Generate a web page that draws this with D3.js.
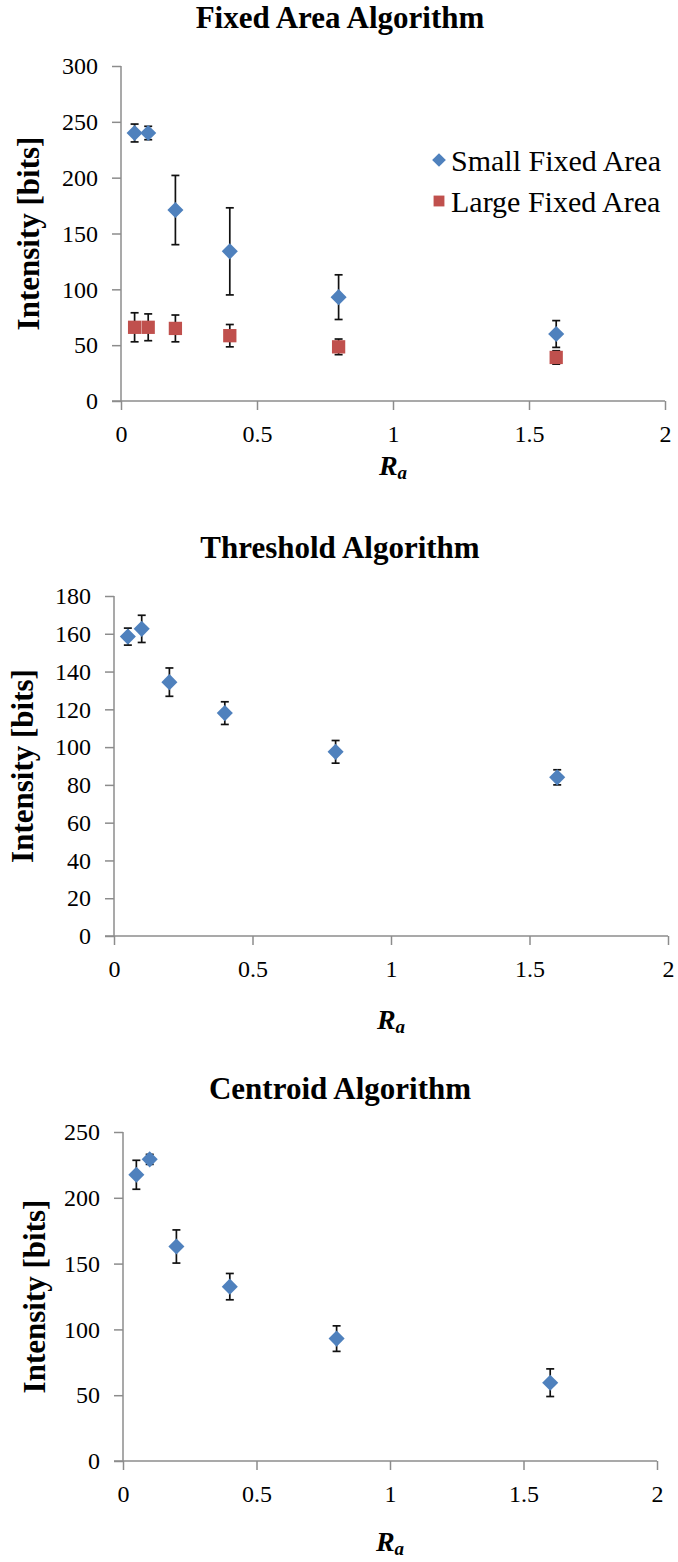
<!DOCTYPE html>
<html><head><meta charset="utf-8">
<script src="https://cdn.jsdelivr.net/npm/d3@7"></script>
<style>html,body{margin:0;padding:0;background:#fff;} svg{display:block;}</style>
</head><body>
<script>
// ---- data ----
const raValues = [0.05, 0.1, 0.2, 0.4, 0.8, 1.6];
const fixedSmall = [240, 240, 171, 134, 93, 60];
const fixedSmallErr = [8, 6, 31, 39, 20, 12];
const fixedLarge = [66, 66, 65, 58.5, 48.5, 39];
const fixedLargeErr = [13, 12, 12, 10, 7, 6];
const thresholdVals = [158.5, 162.6, 134.4, 118, 97.5, 84];
const thresholdErr = [4.5, 7.2, 7.5, 6, 6, 4];
const centroidVals = [217.5, 229.2, 163, 132.5, 93, 59.5];
const centroidErr = [11, 3.8, 12.6, 10, 9.7, 10.5];
const xTicks = [0, 0.5, 1, 1.5, 2];
const fixedTicks = [0, 50, 100, 150, 200, 250, 300];
const thresholdTicks = [0, 20, 40, 60, 80, 100, 120, 140, 160, 180];
const centroidTicks = [0, 50, 100, 150, 200, 250];
const titles = ["Fixed Area Algorithm", "Threshold Algorithm", "Centroid Algorithm"];
const legendLabels = ["Small Fixed Area", "Large Fixed Area"];
const yLabel = "Intensity [bits]";

const BLUE = "#4F81BD", RED = "#C0504D", AXIS = "#8c8c8c";
const FONT = "'Liberation Serif', 'Times New Roman', serif";

const W = 678, H = 1562;
const svg = d3.select("body").append("svg").attr("width", W).attr("height", H)
  .attr("font-family", FONT);

const panels = [
  { title: titles[0], titleY: 28, x0: 121, x1: 665, yTop: 66, yBot: 401, yMax: 300, ticks: fixedTicks,
    ylabX: 28, xlabDY: 74, series: [
      { vals: fixedSmall, err: fixedSmallErr, shape: "diamond", color: BLUE },
      { vals: fixedLarge, err: fixedLargeErr, shape: "square", color: RED } ], legend: true },
  { title: titles[1], titleY: 558, x0: 114, x1: 668, yTop: 596, yBot: 936, yMax: 180, ticks: thresholdTicks,
    ylabX: 22, xlabDY: 93, series: [ { vals: thresholdVals, err: thresholdErr, shape: "diamond", color: BLUE } ] },
  { title: titles[2], titleY: 1099, x0: 123, x1: 657, yTop: 1132, yBot: 1461, yMax: 250, ticks: centroidTicks,
    ylabX: 34, xlabDY: 90, series: [ { vals: centroidVals, err: centroidErr, shape: "diamond", color: BLUE } ] }
];

const diamond = d3.symbol().type(d3.symbolDiamond2).size(165);
const square = d3.symbol().type(d3.symbolSquare2).size(225);

panels.forEach(p => {
  const g = svg.append("g");
  const x = d3.scaleLinear().domain([0, 2]).range([p.x0, p.x1]);
  const y = d3.scaleLinear().domain([0, p.yMax]).range([p.yBot, p.yTop]);

  // title
  g.append("text").text(p.title).attr("text-anchor", "middle")
    .attr("x", 340).attr("y", p.titleY)
    .attr("font-weight", "bold").attr("font-size", 31).attr("fill", "#000");

  // axes
  const yAxis = d3.axisLeft(y).tickValues(p.ticks).tickSize(9).tickPadding(14).tickFormat(d3.format("d"));
  const gy = g.append("g").attr("transform", `translate(${p.x0},0)`).call(yAxis);
  const xAxis = d3.axisBottom(x).tickValues(xTicks).tickSize(9).tickPadding(15).tickFormat(d => d3.format("")(d));
  const gx = g.append("g").attr("transform", `translate(0,${p.yBot})`).call(xAxis);
  [gx, gy].forEach(ax => {
    ax.attr("font-family", FONT).attr("font-size", 24);
    ax.select(".domain").attr("stroke", AXIS).attr("stroke-width", 1.5);
    ax.selectAll(".tick line").attr("stroke", AXIS).attr("stroke-width", 1.5);
    ax.selectAll(".tick text").attr("font-size", 24).attr("font-family", FONT).attr("fill", "#000");
  });
  gy.select(".domain").attr("d", `M0,${p.yBot}V${p.yTop}`);
  gx.select(".domain").attr("d", `M${p.x0 - 9},0H${p.x1}`);

  // y label
  g.append("text").text(yLabel).attr("text-anchor", "middle")
    .attr("font-weight", "bold").attr("font-size", 31).attr("fill", "#000")
    .attr("dominant-baseline", "central")
    .attr("transform", `translate(${p.ylabX},${(p.yTop + p.yBot) / 2}) rotate(-90)`);

  // x label R_a
  const xl = g.append("text").attr("text-anchor", "middle").attr("fill", "#000")
    .attr("x", (p.x0 + p.x1) / 2).attr("y", p.yBot + p.xlabDY);
  xl.append("tspan").text("R").attr("font-weight", "bold").attr("font-style", "italic").attr("font-size", 28);
  xl.append("tspan").text("a").attr("font-weight", "bold").attr("font-style", "italic").attr("font-size", 19).attr("dy", 4);

  // series
  p.series.forEach(s => {
    const pts = raValues.map((r, i) => ({ r, v: s.vals[i], e: s.err[i] }));
    const eb = g.append("g").attr("stroke", "#111").attr("stroke-width", 1.7);
    pts.forEach(d => {
      const cx = x(d.r), yt = y(d.v + d.e), yb = y(d.v - d.e);
      eb.append("line").attr("x1", cx).attr("x2", cx).attr("y1", yt).attr("y2", yb);
      eb.append("line").attr("x1", cx - 4).attr("x2", cx + 4).attr("y1", yt).attr("y2", yt);
      eb.append("line").attr("x1", cx - 4).attr("x2", cx + 4).attr("y1", yb).attr("y2", yb);
    });
    g.append("g").selectAll("path").data(pts).join("path")
      .attr("d", s.shape === "diamond" ? diamond : square)
      .attr("transform", d => `translate(${x(d.r)},${y(d.v)})`)
      .attr("fill", s.color);
  });

  if (p.legend) {
    const items = [{ label: legendLabels[0], shape: "diamond", color: BLUE, y: 160 },
                   { label: legendLabels[1], shape: "square", color: RED, y: 201 }];
    items.forEach(it => {
      g.append("path").attr("d", it.shape === "diamond" ? d3.symbol().type(d3.symbolDiamond2).size(120)() : d3.symbol().type(d3.symbolSquare2).size(150)())
        .attr("transform", `translate(${439},${it.y})`).attr("fill", it.color);
      g.append("text").text(it.label).attr("font-size", 30).attr("fill", "#000")
        .attr("x", 451).attr("y", it.y).attr("dominant-baseline", "central");
    });
  }
});
</script>
</body></html>
